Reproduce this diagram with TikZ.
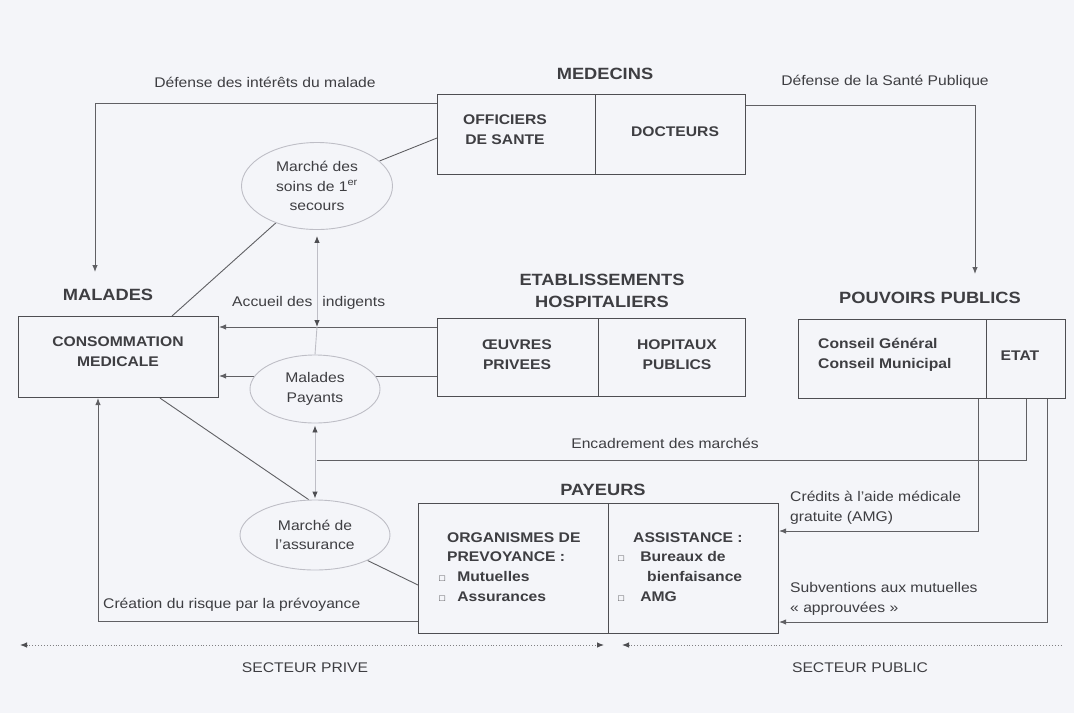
\documentclass[tikz,border=0pt]{standalone}
\usepackage{fontspec}
\setmainfont{Liberation Sans}[FakeStretch=1.12]
\usetikzlibrary{shapes.geometric,arrows.meta,calc}
\pgfdeclarelayer{back}\pgfdeclarelayer{lines}
\pgfsetlayers{back,lines,main}
\definecolor{paper}{RGB}{244,245,249}
\definecolor{ink}{RGB}{62,62,66}
\definecolor{edge}{RGB}{78,78,82}
\definecolor{conn}{RGB}{96,96,100}
\definecolor{pale}{RGB}{190,190,198}
\newcommand{\pbul}{{\fontsize{9}{9}\selectfont □}}
\begin{document}
\begin{tikzpicture}[x=1pt,y=-1pt,
  box/.style={draw=edge,line width=1.1pt,anchor=north west,inner sep=0pt},
  ttl/.style={font=\fontsize{16.3}{22}\selectfont\bfseries,text=ink,align=center,inner sep=0pt},
  btxt/.style={font=\fontsize{14}{20}\selectfont\bfseries,text=ink,align=center,inner sep=0pt},
  rtxt/.style={font=\fontsize{14}{19.5}\selectfont,text=ink,align=center,inner sep=0pt},
  mkt/.style={ellipse,draw=pale,line width=0.9pt,fill=paper,inner sep=0pt,text=ink,align=center,
    font=\fontsize{14}{19.5}\selectfont},
  ln/.style={draw=conn,line width=0.9pt},
  arr/.style={ln,-{Latex[length=7pt,width=5.5pt]}},
  vl/.style={draw=pale,line width=0.9pt},
  dl/.style={draw=conn!80,line width=0.9pt,dotted}]
\begin{pgfonlayer}{back}
\fill[paper] (0,0) rectangle (1074,713);
\end{pgfonlayer}
\useasboundingbox (0,0) rectangle (1074,713);

% boxes
\node[box,minimum width=158pt,minimum height=80pt] (medl) at (437,94) {};
\node[box,minimum width=150pt,minimum height=80pt] (medr) at (595,94) {};
\node[box,minimum width=200pt,minimum height=81pt] (mal) at (18,316) {};
\node[box,minimum width=161pt,minimum height=78pt] (etabl) at (437,318) {};
\node[box,minimum width=147pt,minimum height=78pt] (etabr) at (598,318) {};
\node[box,minimum width=188pt,minimum height=79pt] (ppl) at (798,319) {};
\node[box,minimum width=79pt,minimum height=79pt] (ppr) at (986,319) {};
\node[box,minimum width=190pt,minimum height=130pt] (payl) at (418,503) {};
\node[box,minimum width=170pt,minimum height=130pt] (payr) at (608,503) {};

% titles
\node[ttl] (tmed) at (605,74) {MEDECINS};
\node[ttl] (tmal) at (108,295) {MALADES};
\node[ttl] (tetab) at (602,291) {ETABLISSEMENTS\\HOSPITALIERS};
\node[ttl] (tpp) at (930,298) {POUVOIRS PUBLICS};
\node[ttl] (tpay) at (603,490) {PAYEURS};

% box texts
\node[btxt] (xofs) at (505,130) {OFFICIERS\\DE SANTE};
\node[btxt] (xdoc) at (675,132) {DOCTEURS};
\node[btxt] (xcons) at (118,352) {CONSOMMATION\\MEDICALE};
\node[btxt] (xoeu) at (517,355) {ŒUVRES\\PRIVEES};
\node[btxt] (xhop) at (677,355) {HOPITAUX\\PUBLICS};
\node[btxt,align=left,anchor=west] (xcg) at (818,355) {Conseil Général\\Conseil Municipal};
\node[btxt] (xetat) at (1020,356) {ETAT};
\node[btxt,align=left,anchor=west,font=\fontsize{14}{19.7}\selectfont\bfseries] (xorg) at (439,567)
  {\hspace*{8pt}ORGANISMES DE\\\hspace*{8pt}PREVOYANCE :\\\pbul\hspace{12pt}Mutuelles\\\pbul\hspace{12pt}Assurances};
\node[btxt,align=left,anchor=west,font=\fontsize{14}{19.7}\selectfont\bfseries] (xass) at (618,567)
  {\hspace*{15pt}ASSISTANCE :\\\pbul\hspace{16pt}Bureaux de\\\hspace*{29pt}bienfaisance\\\pbul\hspace{16pt}AMG};

% ellipses
\node[mkt,minimum width=151pt,minimum height=87pt] (e1) at (317,186) {Marché des\\soins de 1\textsuperscript{er}\\secours};
\node[mkt,minimum width=130pt,minimum height=68pt] (e2) at (315,389) {Malades\\Payants};
\node[mkt,minimum width=150pt,minimum height=70pt] (e3) at (315,535) {Marché de\\l'assurance};

% free labels
\node[rtxt] (lmal) at (265,82) {Défense des intérêts du malade};
\node[rtxt] (lsp) at (885,82) {Défense de la Santé Publique};
\node[rtxt,anchor=west] (lacc) at (232,303) {Accueil des\hspace{10pt}indigents};
\node[rtxt] (lenc) at (665,443) {Encadrement des marchés};
\node[rtxt,align=left,anchor=west] (lcred) at (790,508) {Crédits à l'aide médicale\\gratuite (AMG)};
\node[rtxt,align=left,anchor=west] (lsub) at (790,599) {Subventions aux mutuelles\\« approuvées »};
\node[rtxt,anchor=west] (lcre) at (103,605) {Création du risque par la prévoyance};
\node[rtxt] (lpriv) at (305,668) {SECTEUR PRIVE};
\node[rtxt] (lpub) at (860,668) {SECTEUR PUBLIC};

% helper coordinates
\coordinate (y103) at (0,103);
\coordinate (y105) at (0,105);
\coordinate (y138) at (0,138);
\coordinate (y327) at (0,327);
\coordinate (y376) at (0,376);
\coordinate (y585) at (0,585);
\coordinate (y621) at (0,621);
\coordinate (y531) at (0,531);
\coordinate (y622) at (0,622);
\coordinate (x98) at (98,0);
\coordinate (x160) at (160,0);
\coordinate (x172) at (172,0);
\coordinate (x978) at (978,0);
\coordinate (x1047) at (1047,0);
\coordinate (dm) at (95,272);
\coordinate (dsp) at (975,274);
\coordinate (acc) at (317,327);
\coordinate (enc) at (317,460);
\coordinate (sl) at (20,645);
\coordinate (sm1) at (604,645);
\coordinate (sm2) at (622,645);
\coordinate (sr) at (1062,645);

\begin{pgfonlayer}{lines}
\draw[arr] (medl.west |- y103) -| (dm);
\draw[arr] (medr.east |- y105) -| (dsp);
\draw[ln] (medl.west |- y138) -- (e1);
\draw[ln] (e1) -- (mal.north -| x172);
\draw[arr] (etabl.west |- y327) -- (mal.east |- y327);
\draw[arr] (etabl.west |- y376) -- (mal.east |- y376);
\draw[vl,{Latex[length=7pt,width=5.5pt,color=edge]}-{Latex[length=7pt,width=5.5pt,color=edge]},shorten <=6pt] (e1.south) -- (acc);
\draw[vl] (acc) -- (e2.north);
\draw[vl,{Latex[length=7pt,width=5.5pt,color=edge]}-{Latex[length=7pt,width=5.5pt,color=edge]},shorten <=2pt,shorten >=1pt] (e2.south) -- (e3.north);
\draw[ln] (ppr.south) |- (enc);
\draw[ln] (mal.south -| x160) -- (e3.100);
\draw[ln] (e3) -- (payl.west |- y585);
\draw[arr] (payl.west |- y621) -| (mal.south -| x98);
\draw[arr] (ppl.south -| x978) |- (payr.east |- y531);
\draw[arr] (ppr.south -| x1047) |- (payr.east |- y622);
\draw[dl,{Latex[length=7pt,width=5.5pt,color=edge]}-{Latex[length=7pt,width=5.5pt,color=edge]}] (sl) -- (sm1);
\draw[dl,{Latex[length=7pt,width=5.5pt,color=edge]}-] (sm2) -- (sr);
\end{pgfonlayer}
\end{tikzpicture}
\end{document}
